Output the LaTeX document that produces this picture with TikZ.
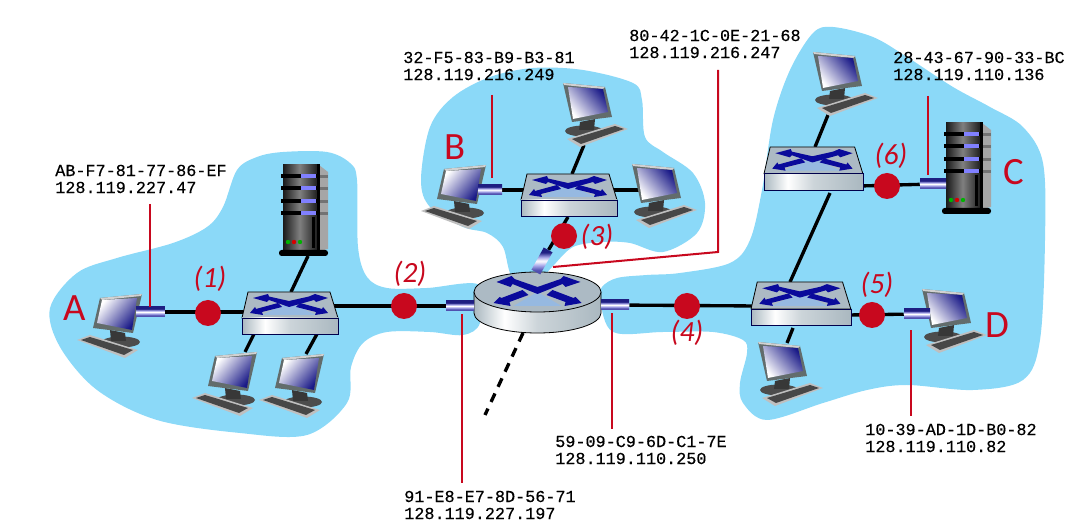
\documentclass[tikz,border=0pt]{standalone}
\usepackage{fontspec}
\setmainfont{Carlito}
\newfontfamily\addrfont[FakeBold=0.35]{Liberation Mono}
\usetikzlibrary{arrows.meta,calc}
\definecolor{cloud}{RGB}{139,217,248}
\definecolor{lred}{RGB}{200,8,30}
\definecolor{xblue}{RGB}{10,10,155}
\definecolor{xlight}{RGB}{150,185,225}
\definecolor{devtop}{RGB}{172,186,196}
\definecolor{devside}{RGB}{170,184,192}
\definecolor{monitor}{RGB}{98,108,108}
\definecolor{scrdark}{RGB}{25,25,135}
\definecolor{adapdark}{RGB}{30,30,130}
\definecolor{adaplow}{RGB}{80,80,175}
\definecolor{adapmid}{RGB}{170,170,235}
\pgfdeclarehorizontalshading{devbody}{100bp}{color(0bp)=(devside); color(25bp)=(devside); color(37bp)=(white); color(50bp)=(devside!60!white); color(75bp)=(devside); color(100bp)=(devside)}
\pgfdeclarehorizontalshading{towerbody}{100bp}{color(0bp)=(black!90); color(25bp)=(black!90); color(48bp)=(black!50); color(75bp)=(black!92); color(100bp)=(black!92)}
\pgfdeclareverticalshading{adapbody}{100bp}{color(0bp)=(adaplow); color(25bp)=(adaplow); color(33bp)=(adaplow); color(42bp)=(adapmid); color(50bp)=(white); color(57bp)=(adapmid); color(66bp)=(adapdark); color(75bp)=(adapdark); color(100bp)=(adapdark)}
\pgfdeclarelayer{back}
\pgfdeclarelayer{wires}
\pgfsetlayers{back,wires,main}
\tikzset{
  x=0.75pt,y=-0.75pt,
  blob/.style={fill=cloud,draw=none},
  link/.style={line width=2.5pt,black},
  redline/.style={line width=1.5pt,lred},
  dot/.style={circle,fill=lred,draw=none,minimum size=19.5pt,inner sep=0pt},
  adapter/.style={rectangle,draw=none,minimum width=21pt,minimum height=7.5pt,inner sep=0pt,shading=adapbody},
  addr/.style={anchor=west,align=left,inner sep=0pt,font=\addrfont\fontsize{12.6}{12.75}\selectfont},
  bigl/.style={text=lred,inner sep=0pt,font=\fontsize{29}{30}\selectfont},
  numl/.style={text=lred,inner sep=0pt,font=\itshape\fontsize{22}{24}\selectfont},
  pics/computer/.style={code={
    \fill[black!70] (21,42) ellipse[x radius=19,y radius=5.5];
    \fill[black!78] (10,30)--(25,33)--(26,41)--(11,41)--cycle;
    \fill[black!25] (-23,40)--(-10,35)--(38,50)--(25,58)--cycle;
    \fill[black!72] (-19,40)--(-10,37)--(33,50)--(24,55)--cycle;
    \fill[monitor] (0,-2)--(42,-6)--(33,33)--(-7,28)--cycle;
    \fill[black!18] (0,-2)--(42,-6)--(41,-4)--(2,0)--cycle;
    \shade[left color=scrdark,right color=white,shading angle=#1]
       (2,0)--(37,-2)--(32,30)--(-3,23)--cycle;
  }},
  servertower/.pic={
    \fill[black!35] (36,0)--(45,7)--(45,84)--(36,86)--cycle;
    \shade[shading=towerbody] (0,0) rectangle (36,85);
    \foreach \yy in {11,23,36,48}{
      \fill[black!55] (36,\yy-1) rectangle (45,\yy+2);
      \fill[black] (-2,\yy-2) rectangle (34,\yy+2);
      \fill[blue!50!white] (18,\yy-2) rectangle (33,\yy+2);
    }
    \fill[black] (29,52) rectangle (32,83);
    \fill[black] (34,-1) rectangle (37,85);
    \fill[green!70!black] (5,77) circle (2.2);
    \fill[red!85!black] (11,77) circle (2.2);
    \fill[green!70!black] (17,77) circle (2.2);
    \fill[black,rounded corners=2pt] (-4,85) rectangle (45,91);
  },
  switchbox/.pic={
    \fill[devtop,draw=black,line width=.6pt] (6,0)--(88,0)--(96,26)--(0,26)--cycle;
    \fill[xlight] (20,23)--(47,10)--(74,23)--cycle;
    \fill[xblue] (11,6)--(26,2)--(27,4.5)--(47,9)--(67,4.5)--(73,2)--(86,6)--(74,10)--(72,8)--(47,15)--(27,8)--(25,10)--cycle;
    \fill[xblue] (8,21)--(13,15)--(14,17)--(36,11)--(40,15)--(20,20)--(21,23)--cycle;
    \fill[xblue] (86,21)--(81,15)--(80,17)--(58,11)--(54,15)--(74,20)--(73,23)--cycle;
    \shade[shading=devbody] (0,26) rectangle (96,42);
    \draw[blue!30!black,line width=.5pt] (0,26) rectangle (96,42);
  },
  routerbox/.pic={
    \shade[shading=devbody]
       (-63.5,0)--(-63.5,21) arc[x radius=63.5,y radius=20,start angle=180,end angle=0]--(63.5,0)--cycle;
    \draw[line width=.6pt] (-63.5,0)--(-63.5,21) arc[x radius=63.5,y radius=20,start angle=180,end angle=0]--(63.5,0);
    \fill[devtop,draw=black,line width=.6pt] (0,0) ellipse[x radius=63.5,y radius=20];
    \fill[xlight] (-24,14)--(0,0)--(24,14)--cycle;
    \fill[xblue] (-41,-10)--(-26,-16)--(-23,-13)--(0,-5)--(23,-13)--(26,-16)--(43,-10)--(28,-5)--(25,-8)--(0,2)--(-25,-8)--(-27,-5)--cycle;
    \fill[xblue] (-44,11)--(-38,5)--(-36,6)--(-15,-2)--(-9,3)--(-28,10)--(-27,14)--cycle;
    \fill[xblue] (44,11)--(38,5)--(36,6)--(15,-2)--(9,3)--(28,10)--(27,14)--cycle;
  },
}
\begin{document}
\begin{tikzpicture}
\useasboundingbox (0,0) rectangle (1079,530);
\begin{pgfonlayer}{back}
\fill[blob] plot[smooth cycle,tension=.55] coordinates {
 (50,308) (77,273) (117,258) (173,243) (207,227) (223,207) (237,170) (257,157) (283,152) (327,152) (350,163) (357,180) (358,247) (367,277) (387,288) (427,288) (480,285)
 (480,323) (463,335) (430,332) (387,332) (363,343) (351,367) (347,403) (307,435) (240,433) (157,420) (97,390) (60,347)};
\fill[blob] plot[smooth cycle,tension=.55] coordinates {
 (421,180) (430,127) (453,97) (490,77) (533,68) (583,70) (633,83) (642,100) (645,137) (663,152) (693,173) (705,203) (697,233) (663,252) (630,243) (603,242) (573,247) (552,267) (540,278) (513,278) (503,247) (487,233) (463,227) (430,207)};
\fill[blob] plot[smooth cycle,tension=.55] coordinates {
 (600,300) (602,287) (617,278) (647,275) (680,273) (730,263) (750,240) (762,190) (773,120) (790,70) (813,33) (833,27) (873,37) (907,57) (953,87) (990,107) (1023,127) (1043,163) (1045,240) (1040,340) (1023,380) (973,390) (907,385) (867,390) (823,403) (767,420) (743,403) (740,383) (747,353) (743,340) (713,332) (663,332) (613,332)};
\end{pgfonlayer}

% devices
\pic (pcA) at (100,300) {computer=230};
\pic at (215,358) {computer=230};
\pic at (282,360) {computer=230};
\pic at (444,171) {computer=230};
\pic[xscale=-1] at (605,89) {computer=310};
\pic[xscale=-1] at (674,170) {computer=310};
\pic[xscale=-1] at (855,58) {computer=310};
\pic[xscale=-1] at (964,295) {computer=310};
\pic[xscale=-1] at (800,348) {computer=310};
\pic at (283,165) {servertower};
\pic at (946,123) {servertower};
\pic at (242,292) {switchbox};
\pic at (521,174) {switchbox};
\pic[scale=1.03] at (764,147) {switchbox};
\pic[scale=1.04] at (751,282) {switchbox};
\coordinate (rt) at (537.5,292);
\pic at (rt) {routerbox};

% attachment points on the device outlines
\coordinate (pcA1) at (245,352);
\coordinate (pcA2) at (306,354);
\coordinate (srvA) at (308,256);
\coordinate (pcB1) at (584,145);
\coordinate (pcB2) at (640,190);
\coordinate (pcC1) at (828,115);
\coordinate (pcD1) at (787,343);
\coordinate (swAt) at (291,292);
\coordinate (swAb1) at (254,334);
\coordinate (swAb2) at (317,334);
\coordinate (swAl) at (247,312);
\coordinate (swAr) at (330,306);
\coordinate (swBl) at (527,190);
\coordinate (swBr) at (612,190);
\coordinate (swBt) at (572,174);
\coordinate (swBb) at (568,217);
\coordinate (swCt) at (815,147);
\coordinate (swCb) at (830,193);
\coordinate (swCr) at (860,186);
\coordinate (swDt) at (790,282);
\coordinate (swDb) at (793,328);
\coordinate (swDl) at (757,306);
\coordinate (swDr) at (848,315);
\coordinate (rtb) at (523,333);
\coordinate (out) at (485,415);

% adapters
\node[adapter,minimum width=21.5pt] (adA) at (150.5,312) {};
\node[adapter,minimum width=18pt] (adB) at (490,190) {};
\node[adapter,rotate=61,minimum width=19pt] (adR3) at (542,261) {};
\node[adapter] (adR2) at (460,306) {};
\node[adapter] (adR4) at (615,305) {};
\node[adapter,minimum width=19.5pt] (adD) at (917,314) {};
\node[adapter,minimum width=19.5pt] (adC) at (933,184) {};

% links
\begin{pgfonlayer}{wires}
\draw[link] (adA) -- (swAl);
\draw[link] (swAt) -- (srvA);
\draw[link] (swAb1) -- (pcA1);
\draw[link] (swAb2) -- (pcA2);
\draw[link] (swAr) -- (adR2);
\draw[link] (adB) -- (swBl);
\draw[link] (swBt) -- (pcB1);
\draw[link] (swBr) -- (pcB2);
\draw[link] (swBb) -- (adR3);
\draw[link] (adR4) -- (swDl);
\draw[link] (swDt) -- (swCb);
\draw[link] (swCt) -- (pcC1);
\draw[link] (swDb) -- (pcD1);
\draw[link] (swDr) -- (adD);
\draw[link] (swCr) -- (adC);
\draw[link,dash pattern=on 7pt off 5.5pt] (rtb) -- (out);
\end{pgfonlayer}

% red markers
\node[dot] (d1) at (208,313) {};
\node[dot] (d2) at (404,306) {};
\node[dot] (d3) at (564,236) {};
\node[dot] (d4) at (687,306) {};
\node[dot] (d5) at (872,315) {};
\node[dot] (d6) at (887,186) {};

% address labels
\node[addr] (tA) at (55,179) {AB-F7-81-77-86-EF\\128.119.227.47};
\node[addr] (tB) at (403,66) {32-F5-83-B9-B3-81\\128.119.216.249};
\node[addr] (tR3) at (629,44) {80-42-1C-0E-21-68\\128.119.216.247};
\node[addr] (tC) at (893,66) {28-43-67-90-33-BC\\128.119.110.136};
\node[addr] (tR4) at (555,450) {59-09-C9-6D-C1-7E\\128.119.110.250};
\node[addr] (tD) at (865,438) {10-39-AD-1D-B0-82\\128.119.110.82};
\node[addr] (tR2) at (404,505) {91-E8-E7-8D-56-71\\128.119.227.197};

% leader lines
\coordinate (lA) at (150,204);
\coordinate (lB) at (492,95);
\coordinate (lR3a) at (718,70);
\coordinate (lR3b) at (718,252);
\coordinate (lR3c) at (553,267);
\coordinate (lR2) at (462,483);
\coordinate (lR4) at (612,429);
\coordinate (lC) at (928,96);
\coordinate (lD) at (911,416);
\draw[redline] (lA) -- (150,307);
\draw[redline] (lB) -- (492,178);
\draw[redline] (lR3a) -- (lR3b) -- (lR3c);
\draw[redline] (lR2) -- (462,314);
\draw[redline] (lR4) -- (612,313);
\draw[redline] (lC) -- (928,175);
\draw[redline] (lD) -- (911,330);

% letters
\node[bigl] (A) at (75,308) {A};
\node[bigl] (B) at (455,147) {B};
\node[bigl] (C) at (1014,172) {C};
\node[bigl] (D) at (997,325) {D};
\node[numl] (n1) at (210,279) {(1)};
\node[numl] (n2) at (410,274) {(2)};
\node[numl] (n3) at (597,237) {(3)};
\node[numl] (n4) at (687,333) {(4)};
\node[numl] (n5) at (877,285) {(5)};
\node[numl] (n6) at (891,156) {(6)};
\end{tikzpicture}
\end{document}
